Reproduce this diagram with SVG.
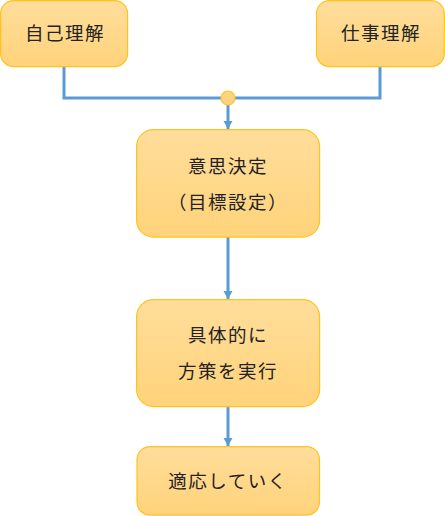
<svg xmlns="http://www.w3.org/2000/svg" width="445" height="516" viewBox="0 0 445 516">
<defs>
<linearGradient id="g" x1="0" y1="0" x2="0" y2="1">
<stop offset="0" stop-color="#FFDD9B"/>
<stop offset="1" stop-color="#FFD37A"/>
</linearGradient>
<marker id="arr" markerWidth="10" markerHeight="10" refX="8" refY="5" orient="auto" markerUnits="userSpaceOnUse">
<path d="M0,0.5 L8,5 L0,9.5 Z" fill="#5B9BD5"/>
</marker>
<style>
.box{fill:url(#g);stroke:#FFC31F;stroke-width:1.2}
.t{font-family:"Noto Sans CJK JP","Noto Sans CJK SC",sans-serif;font-size:18.5px;fill:#222;text-anchor:middle;letter-spacing:1.5px}
.c{fill:none;stroke:#5B9BD5;stroke-width:3}
</style>
</defs>
<g id="connectors">
<polyline class="c" points="64,66 64,98 380,98 380,66"/>
<line class="c" x1="228" y1="105" x2="228" y2="129" marker-end="url(#arr)"/>
<line class="c" x1="228" y1="237" x2="228" y2="299" marker-end="url(#arr)"/>
<line class="c" x1="228" y1="406" x2="228" y2="446" marker-end="url(#arr)"/>
<circle cx="228" cy="98" r="7" fill="#FFD480" stroke="#FFC31F" stroke-width="1.2"/>
</g>
<g id="n1">
<rect class="box" x="0.6" y="0.6" width="127" height="66" rx="13"/>
<text class="t" x="65" y="40">自己理解</text>
</g>
<g id="n2">
<rect class="box" x="316.5" y="0.6" width="127.8" height="66" rx="13"/>
<text class="t" x="381" y="40">仕事理解</text>
</g>
<g id="n3">
<rect class="box" x="136.6" y="129.6" width="183" height="107.5" rx="17"/>
<text class="t" x="228" y="173">意思決定</text>
<text class="t" x="228" y="209">（目標設定）</text>
</g>
<g id="n4">
<rect class="box" x="136.6" y="299.6" width="183" height="107" rx="17"/>
<text class="t" x="228" y="342">具体的に</text>
<text class="t" x="228" y="378">方策を実行</text>
</g>
<g id="n5">
<rect class="box" x="137" y="446.6" width="182.5" height="68.5" rx="13"/>
<text class="t" x="228" y="488">適応していく</text>
</g>
</svg>
